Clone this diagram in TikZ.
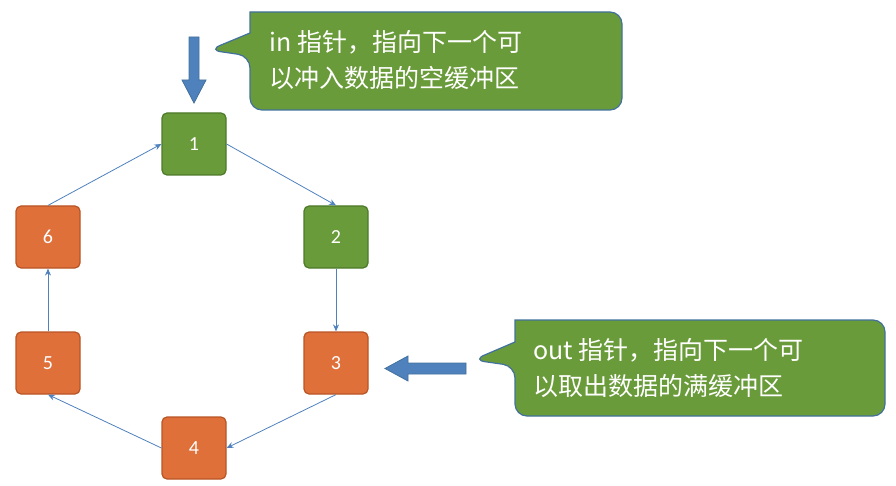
\documentclass[tikz,border=0pt]{standalone}
\usepackage{fontspec}
\setmainfont{Carlito}
\newfontfamily\cjk{Noto Sans CJK SC}
\usetikzlibrary{arrows.meta,shapes.arrows}
\definecolor{gr}{HTML}{6A9B3A}
\definecolor{grb}{HTML}{4E7A2A}
\definecolor{org}{HTML}{E0703A}
\definecolor{orb}{HTML}{B85525}
\definecolor{bl}{HTML}{4F81BD}
\definecolor{blb}{HTML}{41719C}
\begin{document}
\begin{tikzpicture}[x=1pt,y=-1pt,
  box/.style={draw,line width=1.2pt,rounded corners=5pt,minimum width=64pt,minimum height=62pt,text=white,font=\fontsize{20}{24}\selectfont},
  g/.style={box,fill=gr,draw=grb},
  o/.style={box,fill=org,draw=orb},
  con/.style={draw=bl,line width=0.8pt,-{Stealth[length=7pt,width=6pt]}},
  call/.style={fill=gr,draw=blb,line width=1.2pt,rounded corners=12pt},
  ctext/.style={text=white,align=left,font=\cjk\fontsize{25}{36}\selectfont,anchor=west},
  barr/.style={fill=bl,draw=blb,line width=0.8pt}]
\useasboundingbox (0,0) rectangle (896,486);
\node[g] (n1) at (194,144) {1};
\node[g] (n2) at (336,237) {2};
\node[o] (n3) at (336,363) {3};
\node[o] (n4) at (194,448) {4};
\node[o] (n5) at (48,363) {5};
\node[o] (n6) at (48,237) {6};
\draw[con] (n1.east) -- (n2.north);
\draw[con] (n2.south) -- (n3.north);
\draw[con] (n3.south) -- (n4.east);
\draw[con] (n4.west) -- (n5.south);
\draw[con] (n5.north) -- (n6.south);
\draw[con] (n6.north) -- (n1.west);
% callout 1
\draw[call] (250,12) -- (622,12) -- (622,110) -- (250,110) -- (250,56) -- (209,50)[sharp corners] -- (250,33) -- cycle;
\node[ctext] (c1) at (266,60) {in 指针，指向下一个可\\以冲入数据的空缓冲区};
% callout 2
\draw[call] (515,320) -- (885,320) -- (885,416) -- (515,416) -- (515,366) -- (473,360)[sharp corners] -- (515,342) -- cycle;
\node[ctext] (c2) at (530,368) {out 指针，指向下一个可\\以取出数据的满缓冲区};
% block arrows
\draw[barr] (189,37) -- (199,37) -- (199,80) -- (206,80) -- (194,103) -- (182,80) -- (189,80) -- cycle;
\draw[barr] (466,363) -- (466,374) -- (408,374) -- (408,381) -- (385,368.5) -- (408,356) -- (408,363) -- cycle;
\end{tikzpicture}
\end{document}
